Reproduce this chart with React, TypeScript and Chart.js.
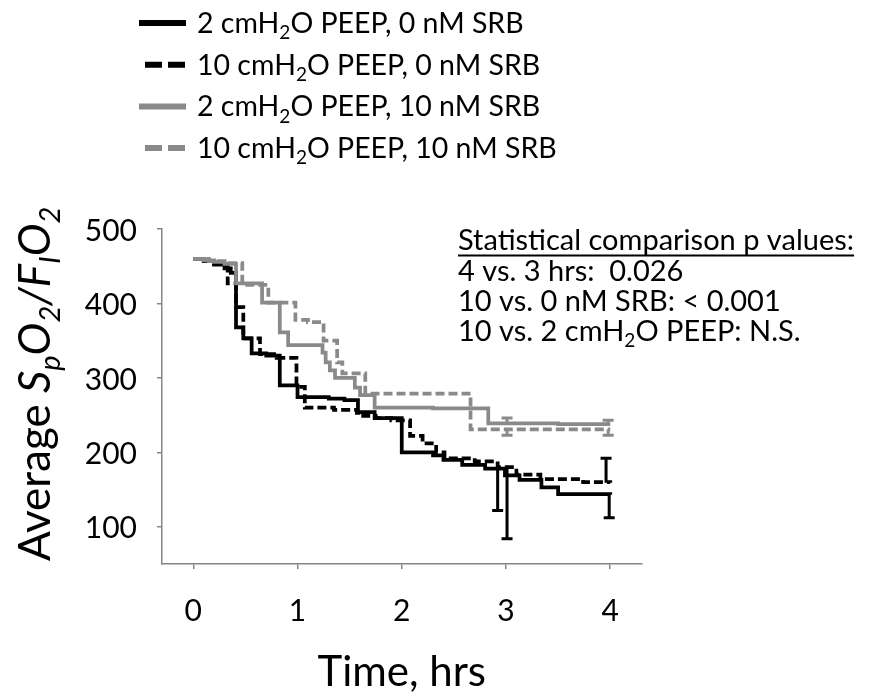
import React, { useEffect, useRef } from 'react';
import { Chart, registerables } from 'chart.js';

Chart.register(...registerables);

// ---------------- data ----------------
const xTicks = [0, 1, 2, 3, 4];
const yTicks = [100, 200, 300, 400, 500];

const seriesLabels = [
  '2 cmH_2O PEEP, 0 nM SRB',
  '10 cmH_2O PEEP, 0 nM SRB',
  '2 cmH_2O PEEP, 10 nM SRB',
  '10 cmH_2O PEEP, 10 nM SRB',
];

// 2 cmH2O PEEP, 0 nM SRB (black solid)
const timeA = [0, 0.1, 0.2, 0.3, 0.36, 0.41, 0.48, 0.56, 0.7, 0.83, 1.0, 1.3, 1.45, 1.58, 1.74, 2.0, 2.3, 2.4, 2.58, 2.8, 2.99, 3.13, 3.34, 3.5, 4.0];
const valA = [460, 457, 452, 447, 441, 368, 353, 333, 330, 290, 274, 272, 270, 254, 246, 200, 196, 190, 183, 178, 169, 163, 153, 144, 143];

// 10 cmH2O PEEP, 0 nM SRB (black dashed)
const timeB = [0, 0.1, 0.2, 0.33, 0.41, 0.48, 0.64, 0.8, 0.99, 1.07, 1.35, 1.57, 1.63, 1.75, 1.9, 2.08, 2.2, 2.33, 2.41, 2.7, 2.92, 3.1, 3.33, 3.74, 4.0];
const valB = [460, 457, 453, 427, 395, 353, 332, 327, 288, 260, 257, 253, 249, 246, 243, 222, 212, 200, 192, 188, 180, 170, 164, 160, 159];

// 2 cmH2O PEEP, 10 nM SRB (gray solid)
const timeC = [0, 0.1, 0.2, 0.3, 0.41, 0.66, 0.83, 0.91, 1.24, 1.27, 1.31, 1.36, 1.55, 1.6, 1.74, 2.3, 2.83, 3.5, 4.0];
const valC = [460, 458, 456, 453, 427, 401, 361, 344, 334, 321, 310, 300, 287, 277, 260, 259, 239, 238, 238];

// 10 cmH2O PEEP, 10 nM SRB (gray dashed)
const timeD = [0, 0.15, 0.3, 0.47, 0.72, 0.98, 1.1, 1.25, 1.38, 1.43, 1.65, 2.2, 2.66, 3.3, 4.0];
const valD = [460, 457, 454, 425, 401, 378, 375, 350, 321, 306, 279, 279, 231, 231, 231];

// error bars (time, curve value, whisker end)
const errTimeA = [2.92, 3.99];
const errBaseA = [178, 143];
const errEndA = [122, 112];

const errTimeB = [3.01, 3.96];
const errBaseB = [180, 159];
const errEndB = [84, 192];

const errTimeC = [3.01, 3.98];
const errBaseC = [239, 238];
const errEndC = [246, 243];

const errTimeD = [3.01, 3.98];
const errBaseD = [231, 231];
const errEndD = [223, 223];

const noteTitle = 'Statistical comparison p values:';
const noteLines = ['4 vs. 3 hrs:  0.026', '10 vs. 0 nM SRB: < 0.001', '10 vs. 2 cmH_2O PEEP: N.S.'];
const xTitle = 'Time, hrs';

// ---------------- styles ----------------
const FONT = 'Lato, "Noto Sans", sans-serif';
const BLACK = '#000000';
const GRAY = '#8a8a8a';
const AXIS = '#868686';

type Run = { t: string; it?: boolean; sub?: boolean };

const yTitleRuns: Run[] = [
  { t: 'Average ' },
  { t: 'S', it: true },
  { t: 'p', it: true, sub: true },
  { t: 'O', it: true },
  { t: '2', it: true, sub: true },
  { t: '/', it: true },
  { t: 'F', it: true },
  { t: 'I', it: true, sub: true },
  { t: 'O', it: true },
  { t: '2', it: true, sub: true },
];

function parseRich(s: string): Run[] {
  const runs: Run[] = [];
  let buf = '';
  for (let i = 0; i < s.length; i++) {
    if (s[i] === '_' && i + 1 < s.length) {
      if (buf) runs.push({ t: buf });
      buf = '';
      runs.push({ t: s[i + 1], sub: true });
      i++;
    } else buf += s[i];
  }
  if (buf) runs.push({ t: buf });
  return runs;
}

function drawRuns(ctx: CanvasRenderingContext2D, runs: Run[], x: number, y: number, size: number) {
  let cx = x;
  for (const r of runs) {
    const fs = r.sub ? Math.round(size * 0.65) : size;
    ctx.font = `${r.it ? 'italic ' : ''}${fs}px ${FONT}`;
    ctx.fillText(r.t, cx, y + (r.sub ? size * 0.22 : 0));
    cx += ctx.measureText(r.t).width;
  }
  return cx - x;
}

const toPoints = (t: number[], v: number[]) => t.map((tt, i) => ({ x: tt, y: v[i] }));

const seriesStyle = [
  { color: BLACK, dash: [] as number[] },
  { color: BLACK, dash: [9, 4] },
  { color: GRAY, dash: [] as number[] },
  { color: GRAY, dash: [9, 4] },
];

const errorSets = [
  { color: BLACK, t: errTimeA, base: errBaseA, end: errEndA },
  { color: BLACK, t: errTimeB, base: errBaseB, end: errEndB },
  { color: GRAY, t: errTimeC, base: errBaseC, end: errEndC },
  { color: GRAY, t: errTimeD, base: errBaseD, end: errEndD },
];

const overlay = {
  id: 'overlay',
  afterDatasetsDraw(chart: any) {
    const { ctx, scales } = chart;
    const xs = scales.x;
    const ys = scales.y;
    ctx.save();
    ctx.setLineDash([]);
    ctx.lineWidth = 3;
    ctx.lineCap = 'butt';
    for (const e of errorSets) {
      ctx.strokeStyle = e.color;
      e.t.forEach((t, i) => {
        const px = xs.getPixelForValue(t);
        const y0 = ys.getPixelForValue(e.base[i]);
        const y1 = ys.getPixelForValue(e.end[i]);
        ctx.beginPath();
        ctx.moveTo(px, y0);
        ctx.lineTo(px, y1);
        ctx.moveTo(px - 5.5, y1);
        ctx.lineTo(px + 5.5, y1);
        ctx.stroke();
      });
    }
    ctx.restore();
  },
  afterDraw(chart: any) {
    const { ctx, chartArea } = chart;
    ctx.save();
    ctx.fillStyle = '#000';
    ctx.textAlign = 'left';
    ctx.textBaseline = 'alphabetic';

    // legend
    seriesLabels.forEach((lab, i) => {
      const base = 33 + i * 41.7;
      const cy = base - 10;
      const st = seriesStyle[i];
      ctx.strokeStyle = st.color;
      ctx.lineWidth = 6;
      ctx.setLineDash(st.dash.length ? [17, 6] : []);
      ctx.beginPath();
      ctx.moveTo(st.dash.length ? 145 : 139, cy);
      ctx.lineTo(186, cy);
      ctx.stroke();
      ctx.setLineDash([]);
      drawRuns(ctx, parseRich(lab), 197, base, 28.5);
    });

    // note
    const nx = 458;
    const w = drawRuns(ctx, parseRich(noteTitle), nx, 250, 29);
    ctx.fillRect(nx, 254.5, w, 2);
    noteLines.forEach((l, i) => drawRuns(ctx, parseRich(l), nx, 281 + i * 30, 29));

    // x title
    ctx.font = `42px ${FONT}`;
    ctx.textAlign = 'center';
    ctx.fillText(xTitle, (chartArea.left + chartArea.right) / 2, 686);

    // y title
    ctx.textAlign = 'left';
    ctx.save();
    ctx.translate(50, 561);
    ctx.rotate(-Math.PI / 2);
    drawRuns(ctx, yTitleRuns, 0, 0, 44);
    ctx.restore();

    ctx.restore();
  },
};

export default function App() {
  const ref = useRef<HTMLCanvasElement | null>(null);
  useEffect(() => {
    if (!ref.current) return;
    const datasets = [
      toPoints(timeA, valA),
      toPoints(timeB, valB),
      toPoints(timeC, valC),
      toPoints(timeD, valD),
    ].map((pts, i) => ({
      label: seriesLabels[i].replace('_', ''),
      data: pts,
      stepped: 'before' as const,
      borderColor: seriesStyle[i].color,
      borderDash: seriesStyle[i].dash,
      borderWidth: 3.75,
      borderJoinStyle: 'miter' as const,
      borderCapStyle: 'butt' as const,
      pointRadius: 0,
      fill: false,
      tension: 0,
    }));
    const chart = new Chart(ref.current, {
      type: 'line',
      data: { datasets: datasets.reverse() as any },
      options: {
        responsive: false,
        animation: false,
        events: [],
        layout: { padding: { top: 229, right: 228.5, left: 0, bottom: 0 } },
        plugins: { legend: { display: false }, tooltip: { enabled: false }, title: { display: false } },
        scales: {
          x: {
            type: 'linear',
            min: -0.3,
            max: 4.3,
            afterBuildTicks: (s: any) => {
              s.ticks = xTicks.map((v) => ({ value: v }));
            },
            afterFit: (s: any) => {
              s.height = 134;
            },
            grid: { display: true, drawOnChartArea: false, drawTicks: true, tickLength: 5, color: AXIS, lineWidth: 1.5 },
            border: { display: true, color: AXIS, width: 1.5 },
            ticks: { font: { family: FONT, size: 30 }, color: '#000', padding: 24, maxRotation: 0, autoSkip: false },
          },
          y: {
            type: 'linear',
            min: 50,
            max: 500,
            afterBuildTicks: (s: any) => {
              s.ticks = yTicks.map((v) => ({ value: v }));
            },
            afterFit: (s: any) => {
              s.width = 162;
            },
            grid: { display: true, drawOnChartArea: false, drawTicks: true, tickLength: 5, color: AXIS, lineWidth: 1.5 },
            border: { display: true, color: AXIS, width: 1.5 },
            ticks: { font: { family: FONT, size: 30 }, color: '#000', padding: 20, labelOffset: 2, autoSkip: false },
          },
        },
      },
      plugins: [overlay],
    });
    return () => chart.destroy();
  }, []);
  return (
    <div style={{ position: 'fixed', left: 0, top: 0, width: 870, height: 698, background: '#fff' }}>
      <canvas ref={ref} width={870} height={698} style={{ width: 870, height: 698, display: 'block' }} />
    </div>
  );
}
